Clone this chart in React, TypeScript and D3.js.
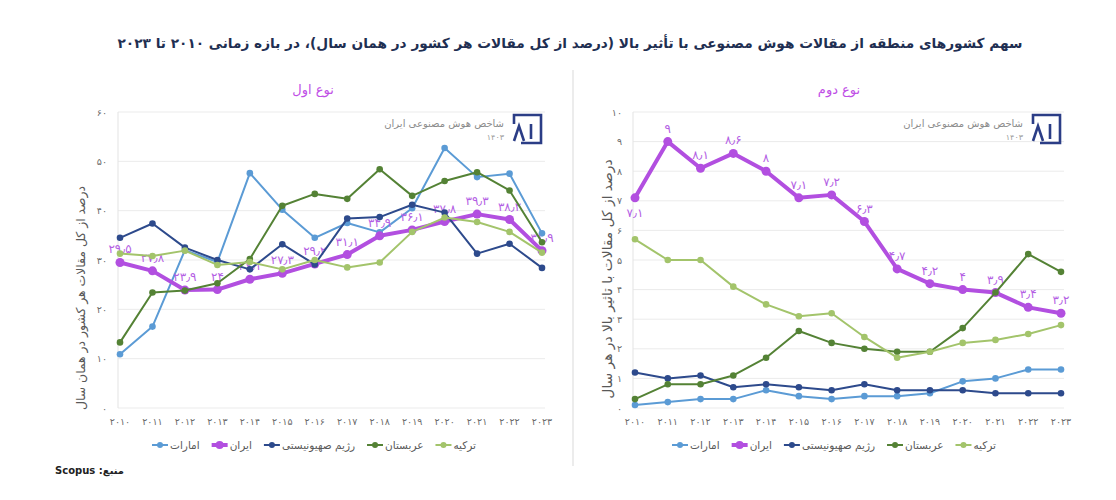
import { useEffect, useRef } from 'react';
import * as d3 from 'd3';

const years = [2010, 2011, 2012, 2013, 2014, 2015, 2016, 2017, 2018, 2019, 2020, 2021, 2022, 2023];

const seriesNames = ['امارات', 'ایران', 'رژیم صهیونیستی', 'عربستان', 'ترکیه'];
const seriesColors = ['#5b9bd5', '#b24fe0', '#2d4a8c', '#548235', '#a3c46b'];

// نوع اول
const uae1 = [10.9, 16.5, 32.0, 29.6, 47.6, 40.2, 34.5, 37.5, 35.6, 40.5, 52.7, 46.8, 47.5, 35.4];
const iran1 = [29.5, 27.8, 23.9, 24, 26.1, 27.3, 29.2, 31.1, 34.9, 36.1, 37.8, 39.3, 38.2, 31.9];
const israel1 = [34.5, 37.4, 32.5, 30.0, 28.1, 33.2, 29.1, 38.4, 38.7, 41.2, 39.6, 31.3, 33.3, 28.4];
const saudi1 = [13.3, 23.4, 23.8, 25.3, 30.2, 41.0, 43.4, 42.4, 48.4, 43.0, 46.0, 47.8, 44.1, 33.6];
const turkey1 = [31.3, 30.8, 31.9, 29.0, 29.6, 28.1, 30.0, 28.5, 29.5, 35.7, 38.6, 37.7, 35.7, 31.5];

// نوع دوم
const uae2 = [0.1, 0.2, 0.3, 0.3, 0.6, 0.4, 0.3, 0.4, 0.4, 0.5, 0.9, 1.0, 1.3, 1.3];
const iran2 = [7.1, 9, 8.1, 8.6, 8, 7.1, 7.2, 6.3, 4.7, 4.2, 4, 3.9, 3.4, 3.2];
const israel2 = [1.2, 1.0, 1.1, 0.7, 0.8, 0.7, 0.6, 0.8, 0.6, 0.6, 0.6, 0.5, 0.5, 0.5];
const saudi2 = [0.3, 0.8, 0.8, 1.1, 1.7, 2.6, 2.2, 2.0, 1.9, 1.9, 2.7, 3.9, 5.2, 4.6];
const turkey2 = [5.7, 5.0, 5.0, 4.1, 3.5, 3.1, 3.2, 2.4, 1.7, 1.9, 2.2, 2.3, 2.5, 2.8];

const ticks1 = [0, 10, 20, 30, 40, 50, 60];
const ticks2 = [0, 1, 2, 3, 4, 5, 6, 7, 8, 9, 10];

const FONT = "'DejaVu Sans', sans-serif";

const fa = (v: number | string) =>
  String(v).replace(/[0-9]/g, (c) => '۰۱۲۳۴۵۶۷۸۹'[+c]).replace('.', '٫');

interface Panel {
  name: string;
  nameX: number;
  yTitle: string;
  yTitleX: number;
  yTitleY: number;
  yTitleSize: number;
  data: number[][];
  ticks: number[];
  x0: number;
  x1: number;
  firstLabelBelow: boolean;
  legendCx: number;
}

const panels: Panel[] = [
  {
    name: 'نوع اول',
    nameX: 313,
    yTitle: 'درصد از کل مقالات هر کشور در همان سال',
    yTitleX: 80,
    yTitleY: 298,
    yTitleSize: 12.4,
    data: [uae1, iran1, israel1, saudi1, turkey1],
    ticks: ticks1,
    x0: 120,
    x1: 542,
    firstLabelBelow: false,
    legendCx: 314,
  },
  {
    name: 'نوع دوم',
    nameX: 839,
    yTitle: 'درصد از کل مقالات با تاثیر بالا در هر سال',
    yTitleX: 607,
    yTitleY: 279,
    yTitleSize: 13.8,
    data: [uae2, iran2, israel2, saudi2, turkey2],
    ticks: ticks2,
    x0: 635,
    x1: 1061,
    firstLabelBelow: true,
    legendCx: 834,
  },
];

const TOP = 112;
const BOTTOM = 408;

export default function App() {
  const ref = useRef<SVGSVGElement>(null);

  useEffect(() => {
    const svg = d3.select(ref.current);
    svg.selectAll('*').remove();
    svg.attr('font-family', FONT);

    svg.append('rect').attr('width', 1116).attr('height', 500).attr('fill', '#fff');

    // title (rtl: text-anchor start = right edge)
    svg.append('text')
      .attr('x', 570).attr('y', 48)
      .attr('text-anchor', 'middle')
      .attr('direction', 'rtl')
      .attr('font-size', 13.7)
      .attr('font-weight', 'bold')
      .attr('fill', '#1f2f52')
      .text('سهم کشورهای منطقه از مقالات هوش مصنوعی با تأثیر بالا (درصد از کل مقالات هر کشور در همان سال)، در بازه زمانی ۲۰۱۰ تا ۲۰۲۳');

    // divider
    svg.append('line')
      .attr('x1', 573).attr('x2', 573).attr('y1', 70).attr('y2', 466)
      .attr('stroke', '#d9d9d9').attr('stroke-width', 1);

    // source
    svg.append('text')
      .attr('x', 124).attr('y', 474)
      .attr('text-anchor', 'start')
      .attr('direction', 'rtl')
      .attr('font-size', 10)
      .attr('font-weight', 'bold')
      .attr('fill', '#222')
      .text('منبع: Scopus');

    for (const p of panels) {
      const x = d3.scalePoint<number>().domain(years).range([p.x0, p.x1]);
      const yMax = p.ticks[p.ticks.length - 1];
      const y = d3.scaleLinear().domain([0, yMax]).range([BOTTOM, TOP]);
      const g = svg.append('g');

      // subtitle
      g.append('text')
        .attr('x', p.nameX).attr('y', 94)
        .attr('text-anchor', 'middle')
        .attr('direction', 'rtl')
        .attr('font-size', 13)
        .attr('fill', '#c04fe6')
        .text(p.name);

      // grid
      g.selectAll('.grid')
        .data(p.ticks)
        .enter()
        .append('line')
        .attr('x1', p.x0 - 2).attr('x2', p.x1 + 3)
        .attr('y1', (d) => y(d)).attr('y2', (d) => y(d))
        .attr('stroke', '#ebebeb').attr('stroke-width', 1);

      g.append('line')
        .attr('x1', p.x0 - 2).attr('x2', p.x0 - 2)
        .attr('y1', TOP).attr('y2', BOTTOM)
        .attr('stroke', '#e3e3e3');

      // y ticks
      g.selectAll('.ytick')
        .data(p.ticks)
        .enter()
        .append('text')
        .attr('x', p.x0 - 13).attr('y', (d) => y(d) + 3.5)
        .attr('text-anchor', 'end')
        .attr('font-size', 9.5)
        .attr('fill', '#6b6b6b')
        .text((d) => fa(d));

      // x ticks
      g.selectAll('.xtick')
        .data(years)
        .enter()
        .append('text')
        .attr('x', (d) => x(d)!).attr('y', 425)
        .attr('text-anchor', 'middle')
        .attr('font-size', 9.5)
        .attr('fill', '#6b6b6b')
        .text((d) => fa(d));

      // y title
      g.append('text')
        .attr('transform', `translate(${p.yTitleX + 5},${p.yTitleY}) rotate(-90)`)
        .attr('text-anchor', 'middle')
        .attr('direction', 'rtl')
        .attr('font-size', p.yTitleSize)
        .attr('fill', '#595959')
        .text(p.yTitle);

      // logo
      const lx = p.x1 - 29;
      const ly = 115;
      const logo = g.append('g').attr('fill', 'none').attr('stroke', '#2b3d86').attr('stroke-width', 2.6);
      logo.append('path').attr('d', `M${lx + 1},${ly + 9} V${ly} H${lx + 28} V${ly + 28} H${lx + 8}`);
      logo.append('path').attr('d', `M${lx + 1},${ly + 26} L${lx + 6},${ly + 11} L${lx + 11},${ly + 26}`);
      logo.append('line').attr('x1', lx + 18).attr('x2', lx + 18).attr('y1', ly + 9).attr('y2', ly + 24);
      g.append('text')
        .attr('x', lx - 9).attr('y', ly + 12)
        .attr('text-anchor', 'start')
        .attr('direction', 'rtl')
        .attr('font-size', 10)
        .attr('fill', '#8c8c8c')
        .text('شاخص هوش مصنوعی ایران');
      g.append('text')
        .attr('x', lx - 9).attr('y', ly + 25)
        .attr('text-anchor', 'end')
        .attr('font-size', 8)
        .attr('fill', '#9a9a9a')
        .text(fa(1403));

      const line = d3.line<number>()
        .x((_, i) => x(years[i])!)
        .y((d) => y(d));

      p.data.forEach((vals, si) => {
        const isIran = si === 1;
        const color = seriesColors[si];
        g.append('path')
          .datum(vals)
          .attr('d', line)
          .attr('fill', 'none')
          .attr('stroke', color)
          .attr('stroke-width', isIran ? 4 : 2)
          .attr('stroke-linejoin', 'round');
        g.selectAll(`.dot${si}`)
          .data(vals)
          .enter()
          .append('circle')
          .attr('cx', (_, i) => x(years[i])!)
          .attr('cy', (d) => y(d))
          .attr('r', isIran ? 4.5 : 3.3)
          .attr('fill', color);

        if (isIran) {
          g.selectAll('.lbl')
            .data(vals)
            .enter()
            .append('text')
            .attr('x', (_, i) => x(years[i])!)
            .attr('y', (d, i) => (i === 0 && p.firstLabelBelow ? y(d) + 19 : y(d) - 9))
            .attr('text-anchor', 'middle')
            .attr('font-size', 12)
            .attr('fill', '#b45fe4')
            .text((d) => fa(d));
        }
      });

      // legend
      const lg = g.append('g');
      const items: { w: number; node: d3.Selection<SVGGElement, unknown, null, undefined> }[] = [];
      seriesNames.forEach((name, si) => {
        const it = lg.append('g');
        const color = seriesColors[si];
        const thick = si === 1;
        it.append('line')
          .attr('x1', 0).attr('x2', 16).attr('y1', 0).attr('y2', 0)
          .attr('stroke', color).attr('stroke-width', thick ? 4 : 2);
        it.append('circle').attr('cx', 8).attr('cy', 0).attr('r', thick ? 4 : 3).attr('fill', color);
        const t = it.append('text')
          .attr('x', 18).attr('y', 4)
          .attr('font-size', 10.5)
          .attr('fill', '#595959')
          .text(name);
        const tw = (t.node() as SVGTextElement).getComputedTextLength();
        items.push({ w: 18 + tw, node: it as any });
      });
      const gap = 12;
      const total = d3.sum(items, (d) => d.w) + gap * (items.length - 1);
      let cx = p.legendCx - total / 2;
      for (const it of items) {
        it.node.attr('transform', `translate(${cx},445)`);
        cx += it.w + gap;
      }
    }
  }, []);

  return (
    <svg
      ref={ref}
      width={1116}
      height={500}
      style={{ position: 'absolute', left: 0, top: 0, display: 'block' }}
    />
  );
}
